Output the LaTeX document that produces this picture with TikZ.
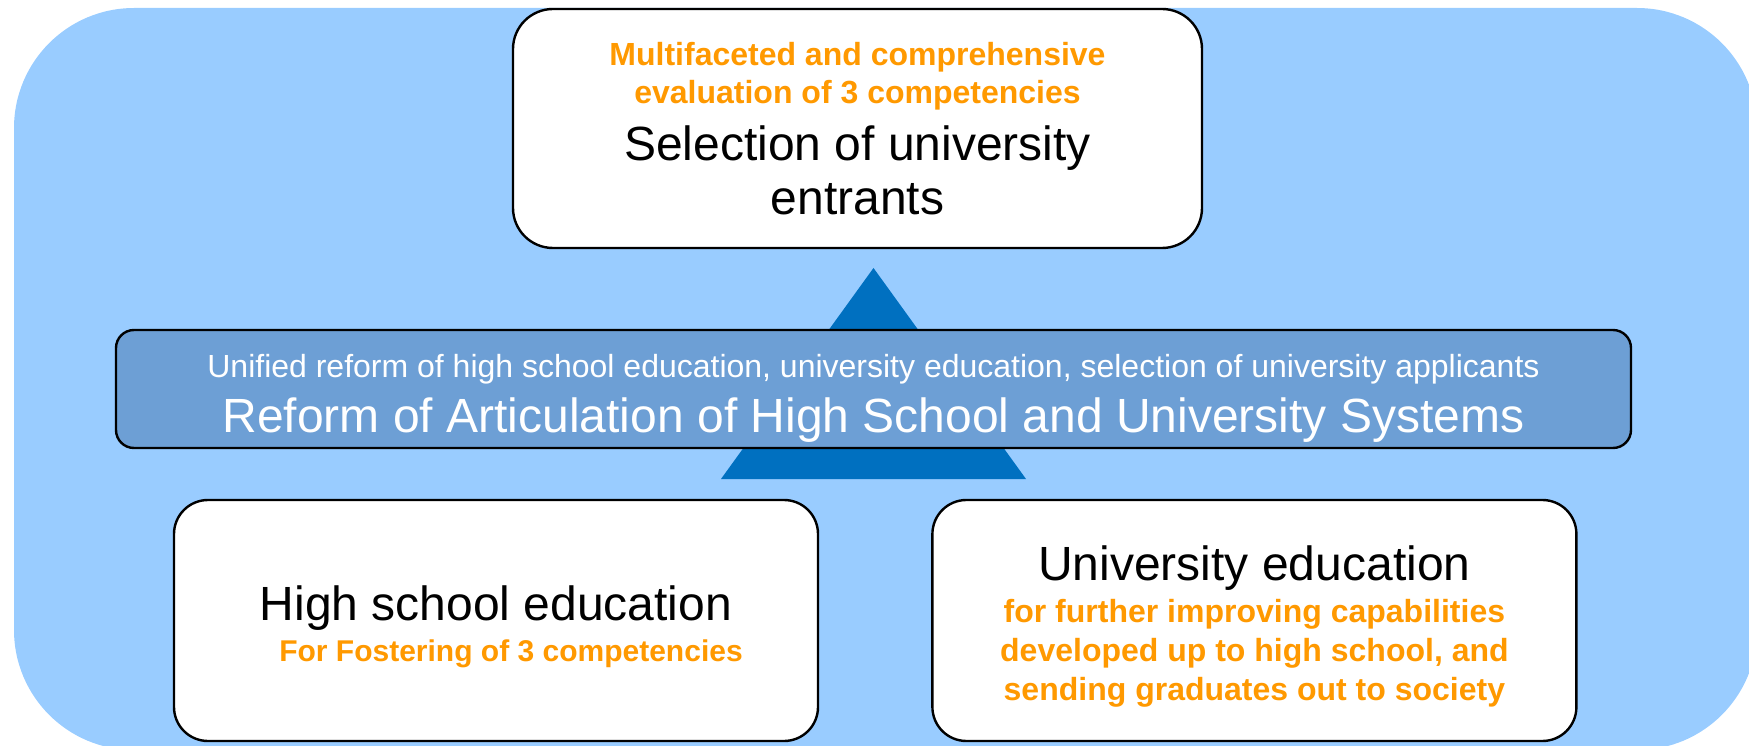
\documentclass[tikz,border=0pt]{standalone}
\usepackage{fontspec}
\setmainfont{Liberation Sans}
\usetikzlibrary{positioning}

\definecolor{skyback}{HTML}{99CCFF}
\definecolor{bandblue}{HTML}{6D9FD5}
\definecolor{darkblue}{HTML}{0070C0}
\definecolor{orangetxt}{HTML}{FF9900}
\newcommand{\subtxt}{\fontsize{32}{39}\selectfont\bfseries\color{orangetxt}}

\begin{document}
\begin{tikzpicture}[x=1pt, y=-1pt, line width=2.4pt,
    box/.style = {draw, fill=white, rounded corners=34pt, align=center, inner sep=0pt, minimum width=644pt, minimum height=241pt, font=\fontsize{48}{55}\selectfont},
    band/.style = {draw, fill=bandblue, rounded corners=18pt, minimum width=1515pt, minimum height=118pt},
    boxtext/.style = {align=center, inner sep=0pt, font=\fontsize{48}{55}\selectfont}]
    \useasboundingbox (0,0) rectangle (1749,746);
    \fill[skyback, rounded corners=120pt] (14,8) rectangle (1757,750);
    \fill[darkblue] (873.5,268) -- (721,479) -- (1026,479) -- cycle;

    \node[box, minimum width=689pt, minimum height=239pt, rounded corners=40pt] (select) at (857.5,128.5) {{\subtxt Multifaceted and comprehensive}\\[-17pt]{\subtxt evaluation of 3 competencies}\\[2pt]Selection of university\\[-1pt]entrants};
    \node[band] (reform) at (873.5,389) {};
    \node[boxtext, text=white] (reformtext) at ([yshift=-9pt]reform.center) {{\fontsize{32}{39}\selectfont Unified reform of high school education, university education, selection of university applicants}\\Reform of Articulation of High School and University Systems};
    \node[box] (highschool) at (496,620.5) {};
    \node[boxtext] (hstext) at ([yshift=-6pt]highschool.center) {High school education\\[-14pt]{\hspace*{30pt}\subtxt\fontsize{30}{37}\selectfont For Fostering of 3 competencies}};
    \node[box, right=112pt of highschool] (univ) {};
    \node[boxtext] (univtext) at ([yshift=-6pt]univ.center) {University education\\[-13pt]{\subtxt for further improving capabilities}\\[-16pt]{\subtxt developed up to high school, and}\\[-16pt]{\subtxt sending graduates out to society}};
\end{tikzpicture}
\end{document}
